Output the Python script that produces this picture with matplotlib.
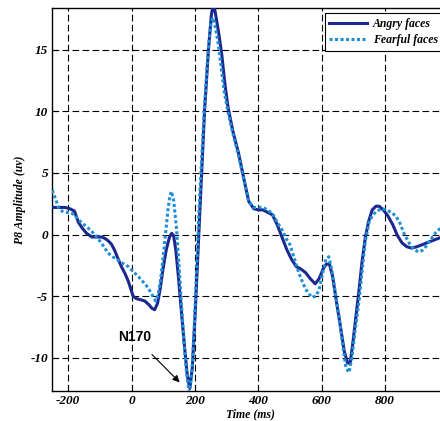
import matplotlib
matplotlib.use('Agg')
import matplotlib.pyplot as plt

plt.rcParams['axes.unicode_minus'] = False

# ERP data, P8 channel
angry_t = [-250, -230, -210, -195, -180, -168, -155, -142, -125, -105, -95, -85,
           -74, -63, -53, -42, -32, -20, -10, 0, 5, 15, 30, 42, 55, 65, 73, 82,
           90, 100, 110, 120, 127, 133, 140, 148, 158, 168, 176, 184, 192, 200,
           208, 216, 231, 243, 252, 259, 266, 275, 285, 295, 305, 320, 338, 355,
           370, 386, 400, 415, 430, 445, 460, 475, 490, 505, 520, 535, 550, 565,
           580, 592, 605, 615, 625, 635, 648, 660, 672, 682, 690, 698, 708, 718,
           728, 738, 748, 760, 772, 782, 795, 810, 825, 840, 855, 870, 885, 900,
           920, 940, 960, 980, 1000]
angry_v = [2.2, 2.2, 2.2, 2.1, 1.9, 1.0, 0.5, 0.1, -0.2, -0.2, -0.2, -0.3,
           -0.5, -0.8, -1.3, -2.0, -2.6, -3.2, -3.8, -4.6, -5.0, -5.2, -5.3, -5.4, -5.7, -6.0, -6.1, -5.6,
           -4.5, -2.7, -1.2, -0.2, 0.1, -0.1, -1.3, -3.4, -6.4, -9.3, -11.4, -12.5, -10.8, -6.9,
           -2.5, 2.0, 10.2, 15.0, 17.8, 18.8, 17.8, 16.4, 14.6, 12.2, 10.3, 8.4, 6.6, 4.5,
           2.7, 2.1, 2.0, 2.0, 1.8, 1.6, 0.8, -0.2, -1.2, -2.0, -2.6, -2.8, -3.1, -3.6,
           -4.0, -3.6, -2.8, -2.4, -2.4, -3.4, -5.6, -7.5, -9.5, -10.4, -10.5, -9.0, -6.8, -4.6,
           -2.2, -0.3, 1.0, 2.0, 2.3, 2.3, 2.0, 1.5, 0.8, -0.1, -0.7, -1.0, -1.1, -1.0,
           -0.8, -0.6, -0.4, -0.2, 0.0]

fear_t = [-250, -240, -231, -220, -206, -195, -180, -168, -150, -127, -110, -95,
          -74, -60, -48, -30, -10, 5, 21, 35, 52, 65, 76, 84, 92, 100, 108, 115,
          121, 126, 133, 142, 150, 158, 166, 174, 182, 190, 198, 206, 214, 229,
          241, 250, 256, 263, 272, 282, 292, 305, 320, 340, 355, 370, 385, 400,
          415, 430, 445, 460, 475, 490, 500, 515, 528, 542, 556, 570, 582, 592,
          603, 614, 623, 632, 643, 655, 667, 677, 687, 696, 706, 718, 728, 738,
          750, 762, 775, 790, 805, 820, 835, 848, 862, 877, 892, 905, 918, 932,
          948, 962, 975, 990, 1000]
fear_v = [3.6, 2.9, 2.2, 1.9, 1.8, 1.8, 1.6, 1.2, 0.8, 0.3, -0.2, -0.7,
          -1.5, -1.8, -2.0, -2.3, -2.6, -3.0, -3.4, -3.8, -4.3, -4.9, -5.4, -4.9, -3.6, -1.8, 0.2, 2.0,
          3.1, 3.5, 2.8, 0.5, -2.5, -5.8, -8.8, -11.3, -12.8, -11.5, -7.5, -2.5, 2.5, 9.8,
          14.6, 17.0, 17.6, 17.0, 15.8, 13.8, 11.7, 9.9, 8.2, 6.2, 4.4, 2.7, 2.2, 2.2,
          2.2, 2.0, 1.7, 1.0, 0.4, -0.4, -0.8, -2.0, -3.1, -4.0, -4.7, -5.1, -5.0, -4.5,
          -3.2, -2.0, -1.8, -2.8, -4.6, -6.6, -9.0, -10.8, -11.2, -10.0, -7.8, -5.5, -3.0, -0.6,
          1.0, 1.6, 1.9, 2.1, 2.0, 1.8, 1.5, 0.9, 0.0, -0.7, -1.2, -1.4, -1.3, -0.9,
          -0.3, 0.2, 0.5, 0.7, 0.8]

x_ticks = [-200, 0, 200, 400, 600, 800]
y_ticks = [-10, -5, 0, 5, 10, 15]

serif = {'family': 'Liberation Serif', 'weight': 'bold', 'style': 'italic'}

fig = plt.figure(figsize=(4.40, 4.21), dpi=100)
ax = fig.add_axes([0.119, 0.0713, 0.8996, 0.910])

ax.plot(angry_t, angry_v, color='#1a2890', lw=2.2, label='Angry faces', zorder=3)
ax.plot(fear_t, fear_v, color='#1f8fd6', lw=2.2, linestyle=(0, (1, 0.8)),
        label='Fearful faces', zorder=4)

ax.set_xlim(-250, 1000)
ax.set_ylim(-12.7, 18.4)
ax.set_xticks(x_ticks)
ax.set_yticks(y_ticks)
ax.grid(True, color='black', linestyle=(0, (6, 3)), lw=0.8)
ax.tick_params(direction='in', length=4, width=0.8, pad=3)
for lab in ax.get_xticklabels() + ax.get_yticklabels():
    lab.set_fontproperties(serif)
    lab.set_fontsize(9.5)
for s in ax.spines.values():
    s.set_linewidth(1.0)

ax.set_xlabel('Time (ms)', fontdict=serif, fontsize=8.5, labelpad=1)
ax.set_ylabel('P8 Amplitude (uv)', fontdict=serif, fontsize=8.5, labelpad=3)

ax.annotate('N170', xy=(152, -12.0), xytext=(9, -8.3),
            ha='center', va='center', fontsize=10, fontweight='bold',
            family='Liberation Sans',
            arrowprops=dict(arrowstyle='-|>', color='black', lw=0.8,
                            shrinkA=8, shrinkB=0))

leg = ax.legend(loc='upper right', fancybox=False, edgecolor='black',
                framealpha=1, prop={**serif, 'size': 8.5}, handlelength=3.2,
                borderaxespad=0.45, labelspacing=0.35, handletextpad=0.5)
leg.get_frame().set_linewidth(0.8)

fig.savefig('out.png', dpi=100)
